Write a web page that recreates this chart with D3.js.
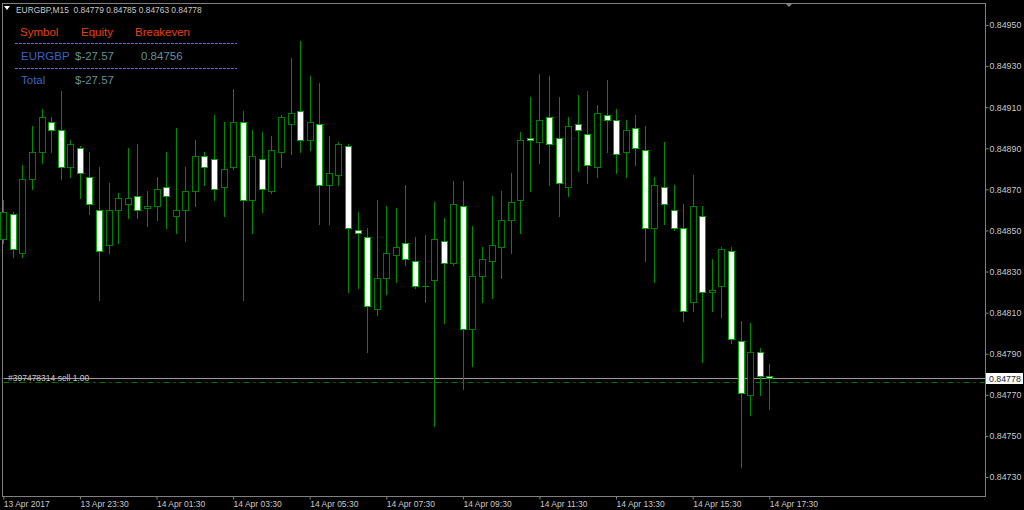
<!DOCTYPE html>
<html><head><meta charset="utf-8">
<script src="https://cdn.jsdelivr.net/npm/d3@7"></script>
<style>html,body{margin:0;padding:0;background:#000;overflow:hidden}</style>
</head><body><svg id="c" width="1024" height="510"></svg>
<script>
const chartTitle = "EURGBP,M15";
const headerOHLC = ["0.84779","0.84785","0.84763","0.84778"];
const barStart = "2017-04-13T21:30:00Z";
const barMinutes = 15;

const open = [0.84846,0.84858,0.84839,0.84875,0.84888,0.84903,0.84899,0.84881,0.84890,0.84876,
0.84860,0.84843,0.84860,0.84863,0.84867,0.84861,0.84862,0.84871,0.84857,0.84860,
0.84869,0.84886,0.84885,0.84871,0.84881,0.84903,0.84865,0.84885,0.84869,0.84888,
0.84902,0.84908,0.84894,0.84902,0.84872,0.84877,0.84891,0.84850,0.84847,0.84812,
0.84827,0.84838,0.84844,0.84835,0.84823,0.84826,0.84845,0.84834,0.84862,0.84802,
0.84828,0.84835,0.84842,0.84855,0.84865,0.84895,0.84893,0.84905,0.84895,0.84871,
0.84902,0.84897,0.84881,0.84906,0.84904,0.84888,0.84900,0.84889,0.84851,0.84871,
0.84860,0.84851,0.84815,0.84857,0.84820,0.84823,0.84840,0.84796,0.84770,0.84791,
0.84779];
const high = [0.84865,0.84859,0.84882,0.84901,0.84909,0.84905,0.84918,0.84894,0.84891,0.84888,
0.84881,0.84873,0.84868,0.84890,0.84892,0.84869,0.84876,0.84888,0.84900,0.84881,
0.84894,0.84888,0.84906,0.84903,0.84919,0.84908,0.84899,0.84898,0.84896,0.84906,
0.84934,0.84942,0.84925,0.84922,0.84896,0.84893,0.84892,0.84859,0.84851,0.84865,
0.84862,0.84861,0.84872,0.84847,0.84848,0.84864,0.84856,0.84874,0.84874,0.84852,
0.84842,0.84867,0.84869,0.84878,0.84898,0.84915,0.84926,0.84925,0.84915,0.84905,
0.84916,0.84918,0.84911,0.84923,0.84909,0.84904,0.84906,0.84901,0.84876,0.84893,
0.84872,0.84863,0.84877,0.84862,0.84836,0.84842,0.84842,0.84806,0.84805,0.84793,
0.84785];
const low = [0.84844,0.84837,0.84837,0.84870,0.84883,0.84888,0.84875,0.84876,0.84866,0.84858,
0.84816,0.84839,0.84844,0.84856,0.84856,0.84852,0.84855,0.84851,0.84849,0.84845,
0.84862,0.84872,0.84865,0.84857,0.84880,0.84816,0.84849,0.84859,0.84868,0.84881,
0.84887,0.84888,0.84889,0.84853,0.84853,0.84872,0.84820,0.84822,0.84791,0.84809,
0.84819,0.84825,0.84833,0.84822,0.84815,0.84755,0.84805,0.84833,0.84773,0.84784,
0.84815,0.84817,0.84827,0.84839,0.84849,0.84869,0.84883,0.84872,0.84857,0.84867,
0.84879,0.84873,0.84876,0.84888,0.84878,0.84876,0.84882,0.84835,0.84825,0.84853,
0.84850,0.84806,0.84811,0.84786,0.84811,0.84808,0.84795,0.84735,0.84760,0.84770,
0.84763];
const close = [0.84859,0.84841,0.84875,0.84888,0.84905,0.84899,0.84881,0.84892,0.84878,0.84863,
0.84840,0.84860,0.84866,0.84866,0.84860,0.84862,0.84870,0.84867,0.84860,0.84869,
0.84886,0.84881,0.84870,0.84880,0.84903,0.84865,0.84886,0.84870,0.84889,0.84905,
0.84907,0.84894,0.84903,0.84872,0.84878,0.84892,0.84851,0.84849,0.84813,0.84827,
0.84839,0.84842,0.84836,0.84823,0.84823,0.84846,0.84834,0.84863,0.84802,0.84828,
0.84836,0.84843,0.84855,0.84864,0.84894,0.84894,0.84904,0.84892,0.84873,0.84901,
0.84899,0.84882,0.84907,0.84904,0.84887,0.84899,0.84890,0.84851,0.84872,0.84863,
0.84851,0.84811,0.84862,0.84820,0.84821,0.84841,0.84797,0.84771,0.84791,0.84779,
0.84778];

const priceTicks = [0.84950,0.84930,0.84910,0.84890,0.84870,0.84850,0.84830,0.84810,0.84790,0.84770,0.84750,0.84730];
const timeTicks = ["2017-04-13T21:30:00Z","2017-04-13T23:30:00Z","2017-04-14T01:30:00Z","2017-04-14T03:30:00Z",
"2017-04-14T05:30:00Z","2017-04-14T07:30:00Z","2017-04-14T09:30:00Z","2017-04-14T11:30:00Z",
"2017-04-14T13:30:00Z","2017-04-14T15:30:00Z","2017-04-14T17:30:00Z"];
const timeTickLabels = ["13 Apr 2017","13 Apr 23:30","14 Apr 01:30","14 Apr 03:30","14 Apr 05:30",
"14 Apr 07:30","14 Apr 09:30","14 Apr 11:30","14 Apr 13:30","14 Apr 15:30","14 Apr 17:30"];

const bidPrice = 0.84778;
const orderPrice = 0.84776;
const orderLabel = "#397478314 sell 1.00";
const panelHeaders = ["Symbol","Equity","Breakeven"];
const panelRow = ["EURGBP","$-27.57","0.84756"];
const panelTotal = ["Total","$-27.57"];

// ---------- drawing ----------
const W = 1024, H = 510;
const plot = {left: 2.5, right: 985.5, top: 3.5, bottom: 496.5};
const FONT = "'Liberation Sans', Arial, sans-serif";
const C = {grid:"#808080", text:"#c8c8c8", wick:"#008c00", outline:"#007e00", bearEdge:"#00a800"};

const svg = d3.select("#c");
svg.append("rect").attr("width",W).attr("height",H).attr("fill","#000");

const t0 = new Date(barStart);
const bars = open.map((o,i)=>({t:new Date(t0.getTime()+i*barMinutes*60000), o, h:high[i], l:low[i], c:close[i]}));

const x = d3.scaleUtc().domain([bars[0].t, bars[bars.length-1].t]).range([3.3, 769.3]);
const y = d3.scaleLinear().domain([0.84730, 0.84950]).range([477, 25]);

// frame
svg.append("rect").attr("x",plot.left).attr("y",plot.top)
  .attr("width",plot.right-plot.left).attr("height",plot.bottom-plot.top)
  .attr("fill","none").attr("stroke",C.grid).attr("stroke-width",1);

// order line (dash-dot)
const yo = Math.round(y(orderPrice))+0.5;
svg.append("line").attr("x1",plot.left+1).attr("x2",plot.right-1).attr("y1",yo).attr("y2",yo)
  .attr("stroke","#007a00").attr("stroke-width",1).attr("stroke-dasharray","6,4,2,4");
// bid line
const yb = Math.round(y(bidPrice))+0.5;
svg.append("line").attr("x1",plot.left+1).attr("x2",plot.right).attr("y1",yb).attr("y2",yb)
  .attr("stroke","#9a9a9a").attr("stroke-width",1);
svg.append("text").attr("x",8).attr("y",yb+2).attr("fill",C.text)
  .attr("font-family",FONT).attr("font-size","8.5px").text(orderLabel);

// candles
const g = svg.append("g").attr("shape-rendering","crispEdges");
bars.forEach(b=>{
  const cx = Math.round(x(b.t));
  g.append("line").attr("x1",cx+0.5).attr("x2",cx+0.5)
    .attr("y1",Math.round(y(b.h))).attr("y2",Math.round(y(b.l))+1)
    .attr("stroke",C.wick).attr("stroke-width",1);
  const yO = Math.round(y(b.o)), yC = Math.round(y(b.c));
  const top = Math.min(yO,yC), hgt = Math.abs(yO-yC);
  if (b.c === b.o) {
    g.append("line").attr("x1",cx-3).attr("x2",cx+4).attr("y1",top+0.5).attr("y2",top+0.5)
      .attr("stroke",C.wick);
  } else {
    g.append("rect").attr("x",cx-3+0.5).attr("y",top+0.5).attr("width",6).attr("height",Math.max(hgt,1))
      .attr("fill", b.c>b.o ? "#000" : "#fff").attr("stroke", b.c>b.o ? C.outline : C.bearEdge).attr("stroke-width",1);
  }
});

// right axis
const ay = svg.append("g").attr("transform",`translate(${plot.right},0)`)
  .call(d3.axisRight(y).tickValues(priceTicks).tickFormat(d3.format(".5f")).tickSize(3).tickPadding(1));
ay.select(".domain").remove();
ay.selectAll("line").attr("stroke",C.grid);
ay.selectAll("text").attr("fill",C.text).attr("font-family",FONT).attr("font-size","8.8px");

// bid label box
svg.append("rect").attr("x",986).attr("y",yb-5.5).attr("width",37).attr("height",11).attr("fill","#fff");
svg.append("text").attr("x",989).attr("y",yb+3.5).attr("fill","#222").attr("font-family",FONT)
  .attr("font-size","8.8px").text(d3.format(".5f")(bidPrice));

// bottom axis
const ax = svg.append("g").attr("transform",`translate(0,${plot.bottom})`)
  .call(d3.axisBottom(x).tickValues(timeTicks.map(s=>new Date(s))).tickFormat((d,i)=>timeTickLabels[i]).tickSize(3).tickPadding(2));
ax.select(".domain").remove();
ax.selectAll("line").attr("stroke",C.grid);
ax.selectAll("text").attr("fill",C.text).attr("font-family",FONT).attr("font-size","8.5px")
  .attr("text-anchor","start").attr("dy","0.6em");

// header
svg.append("path").attr("d","M4,6 L10,6 L7,10 Z").attr("fill","#fff");
svg.append("text").attr("x",16).attr("y",13).attr("fill",C.text).attr("font-family",FONT)
  .attr("font-size","8.4px").attr("xml:space","preserve").text(chartTitle+"  "+headerOHLC.join(" "));
// shift marker
svg.append("path").attr("d","M785,3 L793,3 L789,7 Z").attr("fill","#808080");

// info panel
const pf = "11.5px";
panelHeaders.forEach((t,i)=>svg.append("text").attr("x",[20,81,135][i]).attr("y",36).attr("fill","#e0441a")
  .attr("font-family",FONT).attr("font-size",pf).text(t));
[43.5, 68.5].forEach(yy=>svg.append("line").attr("x1",15).attr("x2",237).attr("y1",yy).attr("y2",yy)
  .attr("stroke","#7060e0").attr("stroke-dasharray","3,1"));
const rowCol = ["#3c62c4","#62909a","#62909a"];
panelRow.forEach((t,i)=>svg.append("text").attr("x",[21,75,141][i]).attr("y",60).attr("fill",rowCol[i])
  .attr("font-family",FONT).attr("font-size",pf).text(t));
panelTotal.forEach((t,i)=>svg.append("text").attr("x",[21,75][i]).attr("y",84).attr("fill",rowCol[i])
  .attr("font-family",FONT).attr("font-size",pf).text(t));
</script></body></html>
